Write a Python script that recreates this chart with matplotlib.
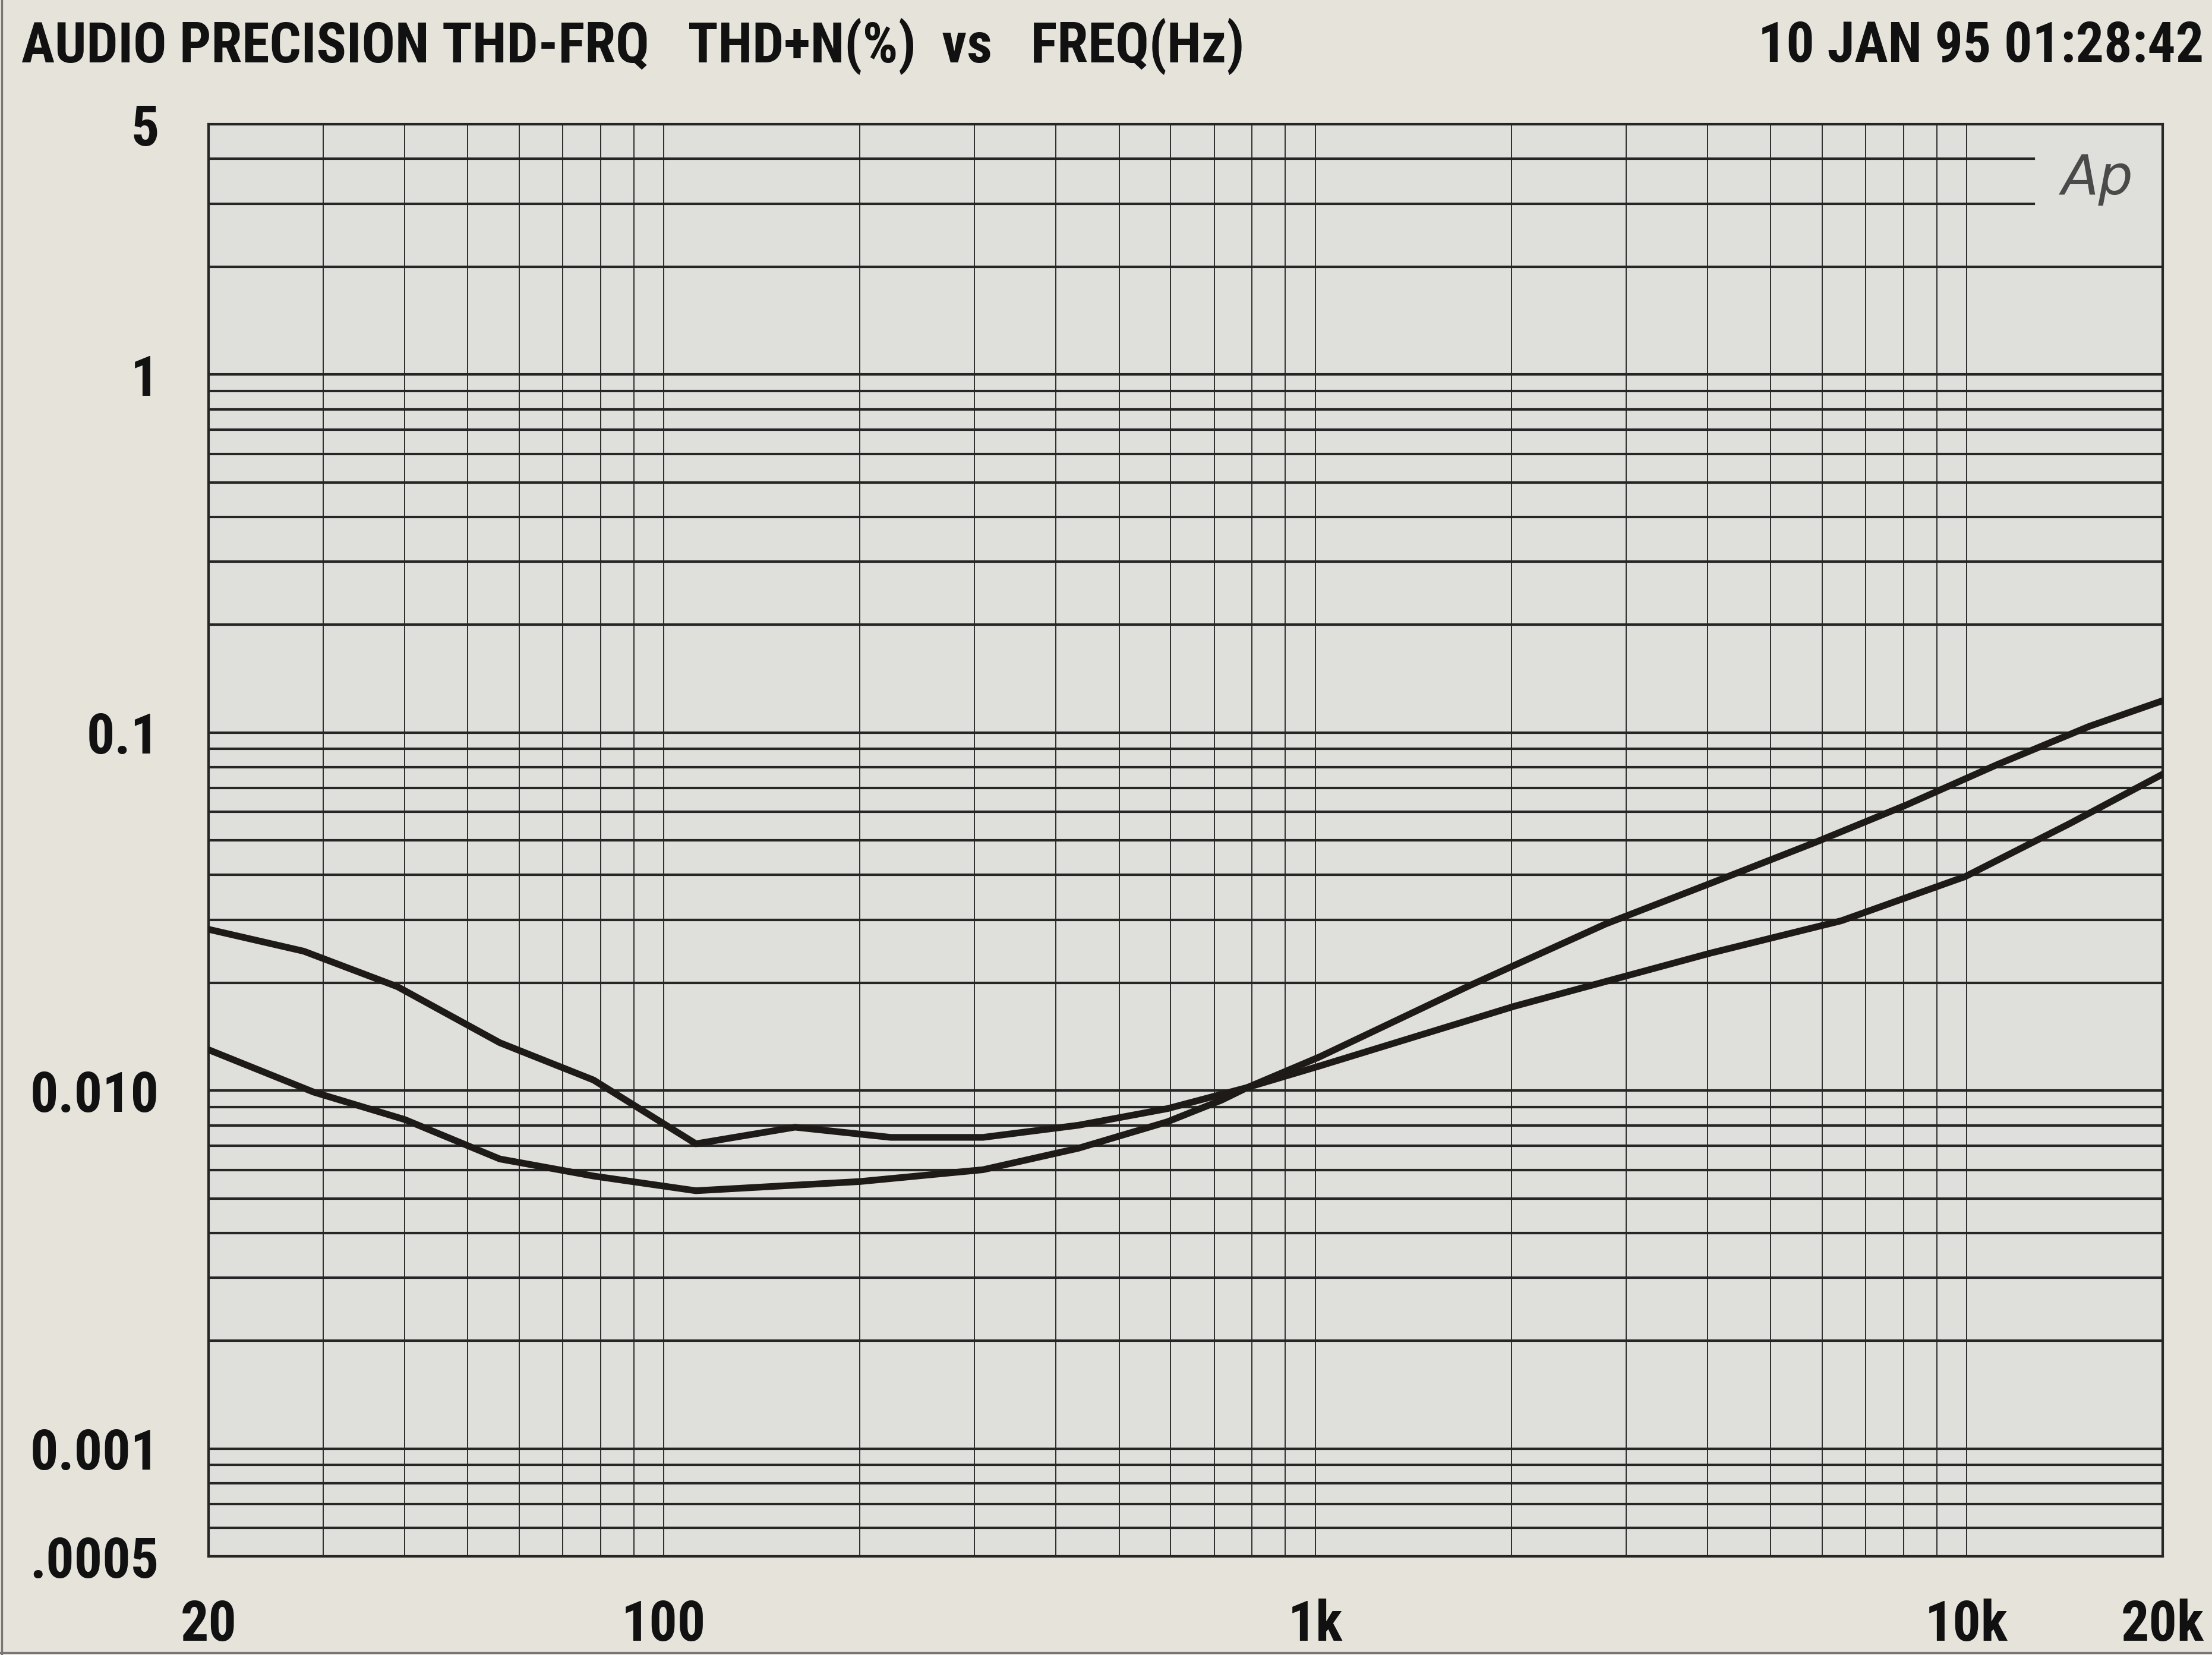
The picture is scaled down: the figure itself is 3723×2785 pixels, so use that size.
# Audio Precision THD+N vs frequency sweep (scanned plot recreation)
import matplotlib
matplotlib.use("Agg")
import matplotlib.pyplot as plt
from matplotlib import font_manager as fm
from matplotlib.lines import Line2D

# === DATA ===
freq_a = [20, 28, 39, 56, 78, 112, 159, 223, 309, 433, 593, 787,
          1014, 2023, 4044, 6423, 9954, 14380, 20000]
thd_a = [0.0282, 0.0245, 0.0195, 0.0136, 0.0107, 0.0071, 0.0079, 0.0074,
         0.0074, 0.0080, 0.0089, 0.0102, 0.0117, 0.0172, 0.0242, 0.0298,
         0.0396, 0.0556, 0.0765]

freq_b = [20, 29, 40, 56, 78, 112, 200, 309, 433, 593, 718, 787,
          1014, 1722, 2793, 4044, 5851, 8090, 11170, 15420, 20000]
thd_b = [0.0130, 0.0099, 0.0083, 0.00644, 0.00577, 0.00525, 0.00557,
         0.00601, 0.0069, 0.00818, 0.0094, 0.0102, 0.0124, 0.0196, 0.0292,
         0.0379, 0.0493, 0.0628, 0.0815, 0.104, 0.1227]

x_ticks = [20, 100, 1000, 10000, 20000]
x_labels = ["20", "100", "1k", "10k", "20k"]
y_ticks = [5, 1, 0.1, 0.01, 0.001, 0.0005]
y_labels = ["5", "1", "0.1", "0.010", "0.001", ".0005"]

title_left = "AUDIO PRECISION THD-FRQ   THD+N(%)  vs   FREQ(Hz)"
title_right = "10 JAN 95 01:28:42"

# grid positions of the chart paper
v_grid = [m * 10 ** e for e in range(1, 5) for m in range(1, 10)]
v_grid = [v for v in v_grid if 20 <= v <= 20000]
h_grid = [m * 10 ** e for e in range(-4, 1) for m in range(1, 10)]
h_grid = [h for h in h_grid if 0.0005 <= h <= 5]

ink = "#262626"
paper = "#e6e3da"


# === FONT: look for a narrow bold face, like the plotter's Helvetica Condensed ===
def pick_font():
    narrow = []
    for f in fm.fontManager.ttflist:
        is_narrow = ("Narrow" in f.name or "Condensed" in f.name
                     or f.stretch in ("condensed", "semi-condensed", "extra-condensed")
                     or "ondensed" in f.fname or "Narrow" in f.fname)
        w = f.weight if isinstance(f.weight, int) else (700 if "bold" in str(f.weight) else 400)
        if is_narrow and w >= 600 and "Oblique" not in f.fname and "Italic" not in f.fname:
            narrow.append(f)
    if narrow:
        narrow.sort(key=lambda f: ("Liberation" not in f.name, "Roboto" not in f.name,
                                   "extra" in str(f.stretch), f.fname))
        return fm.FontProperties(fname=narrow[0].fname)
    return fm.FontProperties(family="Liberation Sans", weight="bold")


fp = pick_font()

# === FIGURE ===
fig = plt.figure(figsize=(3723 / 300, 2785 / 300), dpi=300, facecolor=paper)
ax = fig.add_axes([351 / 3723, 1 - 2619 / 2785, 3289 / 3723, 2410 / 2785])
ax.set_facecolor("#dfe0db")
ax.set_xscale("log")
ax.set_yscale("log")
ax.set_xlim(20, 20000)
ax.set_ylim(0.0005, 5)

for v in v_grid:
    ax.axvline(v, color=ink, lw=0.45, zorder=1)
for h in h_grid:
    # lines at 3 and 4 stop short to leave room for the Ap logo
    xmax = 0.934 if h in (3, 4) else 1
    ax.axhline(h, xmax=xmax, color=ink, lw=1.0, zorder=1)

ax.plot(freq_a, thd_a, color="#1e1a18", lw=2.7, solid_joinstyle="round", zorder=3)
ax.plot(freq_b, thd_b, color="#1e1a18", lw=2.7, solid_joinstyle="round", zorder=3)

# title text, sized so its width matches the scan
t1 = fig.text(36 / 3723, 0.972, title_left, ha="left", va="center",
              fontproperties=fp, fontsize=22.5, color="#111111")
fig.canvas.draw()
w = t1.get_window_extent().width
fs = 22.5 * min(1.0, 2094 / w)
t1.set_fontsize(fs)
fig.text(3709 / 3723, 0.972, title_right, ha="right", va="center",
         fontproperties=fp, fontsize=fs, color="#111111")

ax.set_xticks(x_ticks)
ax.set_xticklabels(x_labels)
ax.set_yticks(y_ticks)
ax.set_yticklabels(y_labels)
ax.minorticks_off()
ax.tick_params(axis="x", length=0, pad=17)
ax.tick_params(axis="y", length=0, pad=20)
for lab in ax.get_xticklabels() + ax.get_yticklabels():
    lab.set_fontproperties(fp)
    lab.set_fontsize(fs)
    lab.set_color("#111111")
for s in ax.spines.values():
    s.set_color(ink)
    s.set_linewidth(1.0)

ax.text(0.9665, 0.962, "Ap", transform=ax.transAxes, ha="center", va="center",
        fontsize=22, fontstyle="oblique", fontweight="light",
        family="DejaVu Sans", color="#4a4a4a")

# scan border at left and bottom
fig.add_artist(Line2D([0.0008, 0.0008], [0, 1], transform=fig.transFigure,
                      color="#777777", lw=0.8))
fig.add_artist(Line2D([0, 1], [0.0015, 0.0015], transform=fig.transFigure,
                      color="#777777", lw=0.8))

fig.savefig("out.png", dpi=300, facecolor=paper)
